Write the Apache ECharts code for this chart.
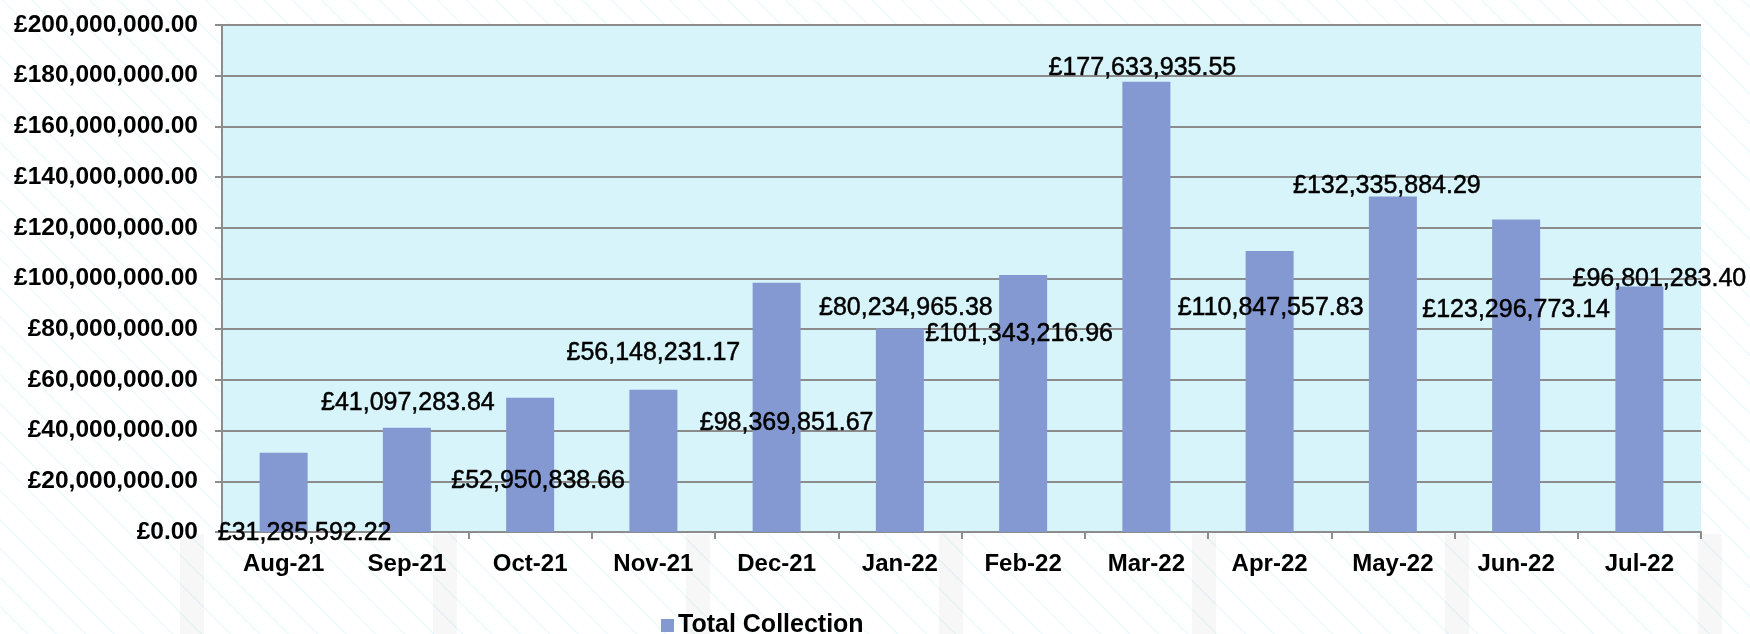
<!DOCTYPE html>
<html>
<head>
<meta charset="utf-8">
<script src="https://cdn.jsdelivr.net/npm/echarts@6/dist/echarts.min.js"></script>
<style>
  html, body { margin: 0; padding: 0; }
  body {
    width: 1750px;
    height: 634px;
    background-color: #ffffff;
    background-image:
      linear-gradient(90deg, rgba(0, 0, 0, 0.03) 0 24px, transparent 24px),
      repeating-linear-gradient(45deg, transparent 0 19px, #ebfafc 19px 20.5px);
    background-size: 253px 100px, auto;
    background-position: 180px 534px, 0 0;
    background-repeat: repeat-x, repeat;
  }
  #chart { width: 1750px; height: 634px; }
</style>
</head>
<body>
<div id="chart"></div>
<script>
// ============ data ============
const months = ['Aug-21', 'Sep-21', 'Oct-21', 'Nov-21', 'Dec-21', 'Jan-22',
  'Feb-22', 'Mar-22', 'Apr-22', 'May-22', 'Jun-22', 'Jul-22']
const totalCollection = [31285592.22, 41097283.84, 52950838.66, 56148231.17, 98369851.67, 80234965.38,
  101343216.96, 177633935.55, 110847557.83, 132335884.29, 123296773.14, 96801283.40]
const seriesName = 'Total Collection'

// where each data label sits in the source (y-axis value at the label centre)
const labelAtValue = [-0.3e6, 51.0e6, 20.0e6, 70.7e6, 43.1e6, 88.2e6,
  78.1e6, 182.9e6, 88.2e6, 136.5e6, 87.6e6, 99.7e6]
// horizontal nudge of each label from its bar centre (px)
const labelShiftX = [21, 1, 8, 0, 10, 6, -4, -4, 1, -6, 0, 20]

// ============ helpers ============
const money = (v) => '£' + Number(v).toLocaleString('en-GB', { minimumFractionDigits: 2, maximumFractionDigits: 2 })

const FONT = 'Arial, "Liberation Sans", sans-serif'
const GRID_GREY = '#8c8c8c'

const chart = echarts.init(document.getElementById('chart'), null, { renderer: 'canvas' })

chart.setOption({
  backgroundColor: 'transparent',
  animation: false,
  textStyle: { fontFamily: FONT },
  grid: {
    left: 222,
    right: 49,
    top: 25,
    bottom: 102,
    show: true,
    backgroundColor: '#d7f4fa',
    borderWidth: 0
  },
  legend: {
    left: 656,
    top: 608,
    icon: 'rect',
    itemWidth: 13,
    itemHeight: 13,
    itemGap: 4,
    textStyle: { color: '#000', fontSize: 25, fontWeight: 'bold', fontFamily: FONT, padding: [0, 0, 0, -1] },
    data: [seriesName]
  },
  xAxis: {
    type: 'category',
    data: months,
    boundaryGap: true,
    axisLine: { show: true, lineStyle: { color: GRID_GREY, width: 2 } },
    axisTick: { show: true, length: 7, lineStyle: { color: GRID_GREY, width: 2 } },
    axisLabel: { color: '#000', fontSize: 24, fontWeight: 'bold', fontFamily: FONT, margin: 20 },
    splitLine: { show: false }
  },
  yAxis: {
    type: 'value',
    min: 0,
    max: 200000000,
    interval: 20000000,
    axisLine: { show: true, lineStyle: { color: GRID_GREY, width: 2 } },
    axisTick: { show: true, length: 7, lineStyle: { color: GRID_GREY, width: 2 } },
    axisLabel: { color: '#000', fontSize: 24.5, fontWeight: 'bold', fontFamily: FONT, margin: 24, formatter: money },
    splitLine: { show: true, lineStyle: { color: GRID_GREY, width: 2 } }
  },
  series: [
    {
      name: seriesName,
      type: 'bar',
      barWidth: 48,
      itemStyle: { color: '#8499d1' },
      data: totalCollection
    }
  ]
})

// place each label where the source had it, measured through the y axis scale
const toPx = (v) => chart.convertToPixel({ yAxisIndex: 0 }, v)
chart.setOption({
  series: [
    {
      name: seriesName,
      data: totalCollection.map((v, i) => ({
        value: v,
        label: {
          show: true,
          position: 'top',
          distance: 0,
          verticalAlign: 'middle',
          align: 'center',
          offset: [labelShiftX[i], toPx(labelAtValue[i]) - toPx(v)],
          color: '#000',
          fontSize: 25,
          fontFamily: FONT,
          textBorderColor: '#000',
          textBorderWidth: 0.5,
          formatter: (p) => money(p.value)
        }
      }))
    }
  ]
})
</script>
</body>
</html>
